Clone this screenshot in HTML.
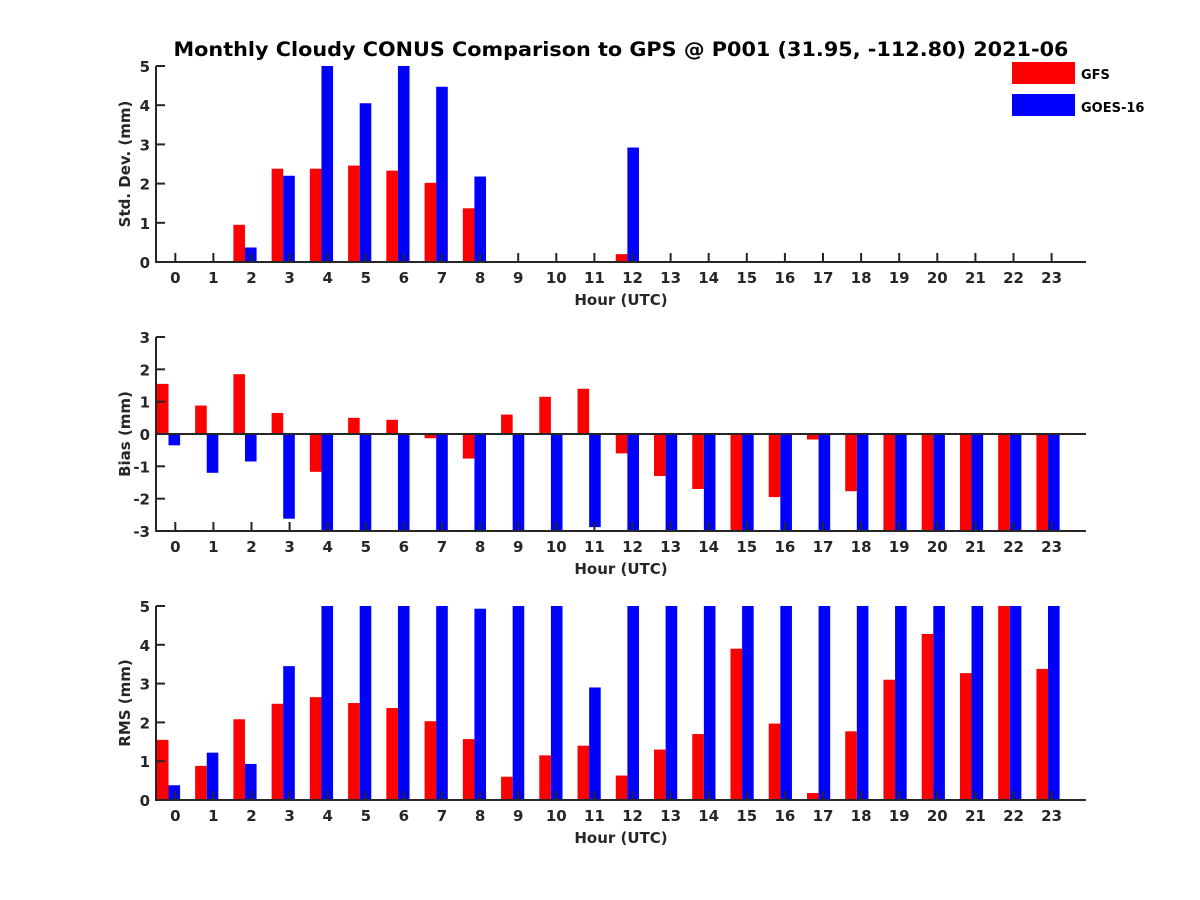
<!DOCTYPE html>
<html><head><meta charset="utf-8"><style>
html,body{margin:0;padding:0;background:#fff;}
svg{display:block;font-family:"DejaVu Sans","Liberation Sans",sans-serif;font-weight:bold;}
</style></head><body>
<svg id="chart" width="1200" height="900" viewBox="0 0 1200 900" xmlns="http://www.w3.org/2000/svg">
<text x="621" y="56" text-anchor="middle" font-size="19.5" fill="#000" textLength="895" lengthAdjust="spacingAndGlyphs">Monthly Cloudy CONUS Comparison to GPS @ P001 (31.95, -112.80) 2021-06</text>
<g>
<rect x="1012" y="62" width="63" height="22" fill="#ff0000"/>
<text x="1081" y="79" font-size="13" fill="#000">GFS</text>
<rect x="1012" y="94" width="63" height="22" fill="#0000ff"/>
<text x="1081" y="112" font-size="13" fill="#000">GOES-16</text>
</g>
</svg>
<script>
const hours = [0,1,2,3,4,5,6,7,8,9,10,11,12,13,14,15,16,17,18,19,20,21,22,23];
const stdGFS  = [0,0,0.95,2.38,2.38,2.46,2.33,2.02,1.37,0,0,0,0.2,0,0,0,0,0,0,0,0,0,0,0];
const stdGOES = [0,0,0.37,2.2,5,4.05,5,4.47,2.18,0,0,0,2.92,0,0,0,0,0,0,0,0,0,0,0];
const biasGFS  = [1.55,0.88,1.85,0.65,-1.17,0.5,0.44,-0.13,-0.76,0.6,1.15,1.4,-0.6,-1.3,-1.7,-3,-1.95,-0.17,-1.77,-3,-3,-3,-3,-3];
const biasGOES = [-0.35,-1.2,-0.85,-2.62,-3,-3,-3,-3,-3,-3,-3,-2.88,-3,-3,-3,-3,-3,-3,-3,-3,-3,-3,-3,-3];
const rmsGFS  = [1.55,0.88,2.08,2.48,2.65,2.5,2.37,2.03,1.57,0.6,1.15,1.4,0.63,1.3,1.7,3.9,1.97,0.18,1.77,3.1,4.28,3.27,5,3.38];
const rmsGOES = [0.38,1.22,0.93,3.45,5,5,5,5,4.93,5,5,2.9,5,5,5,5,5,5,5,5,5,5,5,5];
const stdTicks = [0,1,2,3,4,5];
const biasTicks = [-3,-2,-1,0,1,2,3];
const rmsTicks = [0,1,2,3,4,5];

const NS='http://www.w3.org/2000/svg';
const svg=document.getElementById('chart');
const tickX=h=>175.3+38.1*h;
const barX=h=>168.5+38.24*h;
const BW=11.6;
function mk(tag,attrs,parent){const e=document.createElementNS(NS,tag);for(const k in attrs)e.setAttribute(k,attrs[k]);(parent||svg).appendChild(e);return e;}

function panel(name,top,bot,ymin,ymax,ticks,gfs,goes,ylabel){
  const g=mk('g',{});
  
  
  const y=v=>bot-(Math.max(ymin,Math.min(ymax,v))-ymin)/(ymax-ymin)*(bot-top);
  const y0=y(Math.max(ymin,0));
  hours.forEach((h,i)=>{
    const c=barX(h);
    [[gfs[i],c-BW,'#ff0000','gfs'],[goes[i],c,'#0000ff','goes']].forEach(([v,x,col,s])=>{
      const yv=y(v);
      const r=mk('rect',{x:x,y:Math.min(yv,y0),width:BW,height:Math.abs(yv-y0),fill:col},g);
      
      
    });
  });
  if(ymin<0){const b=mk('line',{x1:156,x2:1086,y1:y0,y2:y0,stroke:'#262626','stroke-width':2},g);
    
    }
  const ax=mk('g',{},g);
  
  
  mk('line',{x1:156,x2:156,y1:top,y2:bot+1,stroke:'#262626','stroke-width':2},ax);
  mk('line',{x1:155,x2:1086,y1:bot,y2:bot,stroke:'#262626','stroke-width':2},ax);
  ticks.forEach(t=>{
    const yy=y(t);
    mk('line',{x1:156,x2:165,y1:yy,y2:yy,stroke:'#262626','stroke-width':2},ax);
    const tl=mk('text',{x:150,y:yy+6,'text-anchor':'end','font-size':15,fill:'#262626'},ax);
    tl.textContent=t;
    
    
  });
  hours.forEach(h=>{
    const xx=tickX(h);
    mk('line',{x1:xx,x2:xx,y1:bot,y2:bot-9,stroke:'#262626','stroke-width':2},ax);
    const tl=mk('text',{x:xx,y:bot+21,'text-anchor':'middle','font-size':15,fill:'#262626'},ax);
    tl.textContent=h;
    
    
  });
  const xl=mk('text',{x:621,y:bot+43,'text-anchor':'middle','font-size':15,fill:'#262626'},g);
  xl.textContent='Hour (UTC)';
  
  
  const cy=(top+bot)/2;
  const yl=mk('text',{x:0,y:0,transform:`translate(130,${cy}) rotate(-90)`,'text-anchor':'middle','font-size':15,fill:'#262626'},g);
  yl.textContent=ylabel;
  
  
}
panel('std',66,262,0,5,stdTicks,stdGFS,stdGOES,'Std. Dev. (mm)');
panel('bias',337,531,-3,3,biasTicks,biasGFS,biasGOES,'Bias (mm)');
panel('rms',606,800,0,5,rmsTicks,rmsGFS,rmsGOES,'RMS (mm)');
</script>
</body></html>
